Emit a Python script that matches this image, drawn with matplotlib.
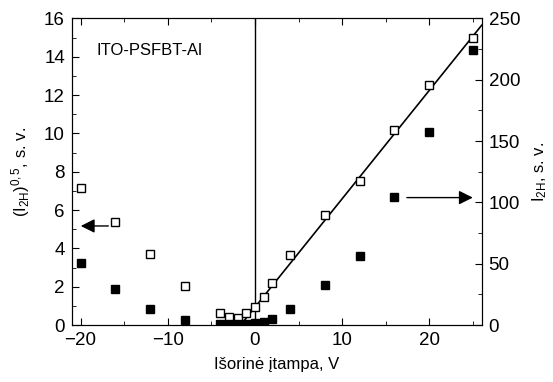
import matplotlib
matplotlib.use("Agg")
import matplotlib.pyplot as plt
from matplotlib.ticker import MultipleLocator

plt.rcParams['font.family'] = ['Liberation Sans', 'DejaVu Sans']
plt.rcParams['mathtext.fontset'] = 'custom'
plt.rcParams['mathtext.rm'] = 'Liberation Sans'
plt.rcParams['mathtext.it'] = 'Liberation Sans'

# Open squares: (I_2H)^0.5, left axis
voltage = [-20, -16, -12, -8, -4, -3, -2, -1, 0, 1, 2, 4, 8, 12, 16, 20, 25]
sqrt_i2h = [7.14, 5.38, 3.70, 2.05, 0.61, 0.42, 0.38, 0.61, 0.92, 1.46, 2.2,
            3.63, 5.73, 7.52, 10.2, 12.54, 14.96]
# Filled squares: I_2H, right axis
i2h = [51, 29, 13.3, 4, 1.2, 1.2, 1.2, 1.2, 1.5, 2.7, 4.8, 13, 32.8, 56.4,
       104.5, 157.4, 224]
# linear fit line (left axis)
fit_x = [-1.65, 26]
fit_y = [0, 15.64]

fig = plt.figure(figsize=(5.53, 3.82), dpi=100)
ax = fig.add_axes([0.130, 0.149, 0.741, 0.803])
ax2 = ax.twinx()

ax.plot(fit_x, fit_y, color='black', lw=1.2, zorder=2)
ax.axvline(0, color='black', lw=1.0, zorder=1)
ax.plot(voltage, sqrt_i2h, 's', ms=5.5, mfc='white', mec='black', mew=1.0, zorder=3)
ax2.plot(voltage, i2h, 's', ms=5.5, mfc='black', mec='black', zorder=3)

ax.set_xlim(-21, 26)
ax.set_ylim(0, 16)
ax2.set_ylim(0, 250)

ax.xaxis.set_major_locator(MultipleLocator(10))
ax.xaxis.set_minor_locator(MultipleLocator(5))
ax.yaxis.set_major_locator(MultipleLocator(2))
ax.yaxis.set_minor_locator(MultipleLocator(1))
ax2.yaxis.set_major_locator(MultipleLocator(50))
ax2.yaxis.set_minor_locator(MultipleLocator(25))

ax.tick_params(which='both', direction='in', top=True, labelsize=13.5)
ax.tick_params(which='major', length=5, pad=5)
ax.tick_params(which='minor', length=3)
ax2.tick_params(which='both', direction='in', labelsize=13.5)
ax2.tick_params(which='major', length=5, pad=5)
ax2.tick_params(which='minor', length=3)

ax.set_xlabel('Išorinė įtampa, V', fontsize=12, labelpad=6)
ax.set_ylabel(r'(I$_{2H}$)$^{0,5}$, s. v.', fontsize=12, labelpad=9)
ax2.set_ylabel(r'I$_{2H}$, s. v.', fontsize=12, labelpad=7)

ax.text(-12.1, 14.3, 'ITO-PSFBT-Al', fontsize=12, ha='center', va='center')

ax.annotate('', xy=(-20.3, 5.17), xytext=(-16.5, 5.17),
            arrowprops=dict(arrowstyle='-|>,head_length=0.6,head_width=0.3',
                            color='black', lw=1.0, mutation_scale=14))
ax.annotate('', xy=(25.3, 6.65), xytext=(17.1, 6.65),
            arrowprops=dict(arrowstyle='-|>,head_length=0.6,head_width=0.3',
                            color='black', lw=1.0, mutation_scale=14))

fig.savefig('out.png', dpi=100)
